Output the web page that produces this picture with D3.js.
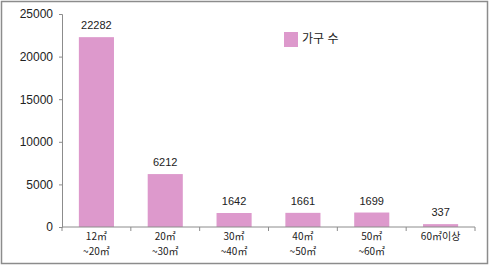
<!DOCTYPE html>
<html>
<head>
<meta charset="utf-8">
<script src="https://cdn.jsdelivr.net/npm/d3@7"></script>
<style>
  body { margin: 0; background: #fff; }
  svg { display: block; font-family: "Liberation Sans", Arial, "Noto Sans CJK KR", sans-serif; }
</style>
</head>
<body>
<div id="chart"></div>
<script>
var categories = [["12㎡", "~20㎡"], ["20㎡", "~30㎡"], ["30㎡", "~40㎡"], ["40㎡", "~50㎡"], ["50㎡", "~60㎡"], ["60㎡이상"]]
  , values = [22282, 6212, 1642, 1661, 1699, 337]
  , yTicks = [0, 5000, 10000, 15000, 20000, 25000]
  , seriesName = "가구 수"
  ;

var width = 490, height = 265
  , margin = {top: 14, right: 15, bottom: 38, left: 62}
  , barColor = "#dd99cc"
  , axisColor = "#8c8c8c"
  ;

var svg = d3.select("#chart").append("svg")
  .attr("width", width)
  .attr("height", height);

// outer frame
svg.append("rect")
  .attr("x", 1.5).attr("y", 1.5)
  .attr("width", width - 4).attr("height", height - 3)
  .attr("fill", "none")
  .attr("stroke", "#8c8c8c")
  .attr("stroke-width", 1.5);

var x = d3.scaleBand()
  .domain(d3.range(categories.length))
  .range([margin.left, width - margin.right])
  .paddingInner(0.49)
  .paddingOuter(0.245);

var y = d3.scaleLinear()
  .domain([0, 25000])
  .range([height - margin.bottom, margin.top]);

var step = x.step();

// bars
svg.selectAll("rect.bar").data(values)
  .enter().append("rect")
  .attr("class", "bar")
  .attr("x", function (d, i) { return x(i); })
  .attr("y", function (d) { return y(d); })
  .attr("width", x.bandwidth())
  .attr("height", function (d) { return y(0) - y(d); })
  .attr("fill", barColor);

// value labels
svg.selectAll("text.val").data(values)
  .enter().append("text")
  .attr("class", "val")
  .attr("x", function (d, i) { return x(i) + x.bandwidth() / 2; })
  .attr("y", function (d) { return y(d) - 8; })
  .attr("text-anchor", "middle")
  .attr("font-size", "11px")
  .attr("fill", "#222")
  .text(function (d) { return d; });

// y axis
var yAxis = svg.append("g")
  .attr("transform", "translate(" + margin.left + ",0)")
  .call(d3.axisLeft(y).tickValues(yTicks).tickSize(3).tickPadding(6).tickFormat(d3.format("d")));
yAxis.select(".domain").attr("stroke", axisColor);
yAxis.selectAll(".tick line").attr("stroke", axisColor);
yAxis.selectAll(".tick text")
  .attr("font-size", "12px")
  .attr("font-family", "Liberation Sans, Arial, sans-serif")
  .attr("fill", "#222");

// x axis line and separators
var x0 = margin.left, x1 = width - margin.right, yBase = y(0);
svg.append("line")
  .attr("x1", x0).attr("x2", x1)
  .attr("y1", yBase).attr("y2", yBase)
  .attr("stroke", axisColor);

svg.selectAll("line.sep").data(d3.range(categories.length + 1))
  .enter().append("line")
  .attr("class", "sep")
  .attr("x1", function (i) { return x0 + i * step; })
  .attr("x2", function (i) { return x0 + i * step; })
  .attr("y1", yBase).attr("y2", yBase + 4)
  .attr("stroke", axisColor);

// category labels, one text per line
var catLines = [];
categories.forEach(function (c, i) {
  c.forEach(function (s, j) { catLines.push({s: s, i: i, j: j}); });
});

svg.selectAll("text.cat").data(catLines)
  .enter().append("text")
  .attr("class", "cat")
  .attr("text-anchor", "middle")
  .attr("font-family", "Noto Sans CJK KR, sans-serif")
  .attr("font-size", "10px")
  .attr("fill", "#222")
  .attr("x", function (d) { return x(d.i) + x.bandwidth() / 2; })
  .attr("y", function (d) { return yBase + 13 + d.j * 14.5; })
  .text(function (d) { return d.s; });

// legend
svg.append("rect")
  .attr("x", 284).attr("y", 32)
  .attr("width", 14).attr("height", 15)
  .attr("fill", barColor);
svg.append("text")
  .attr("x", 302).attr("y", 43)
  .attr("font-size", "12px")
  .attr("fill", "#222")
  .text(seriesName);
</script>
</body>
</html>
